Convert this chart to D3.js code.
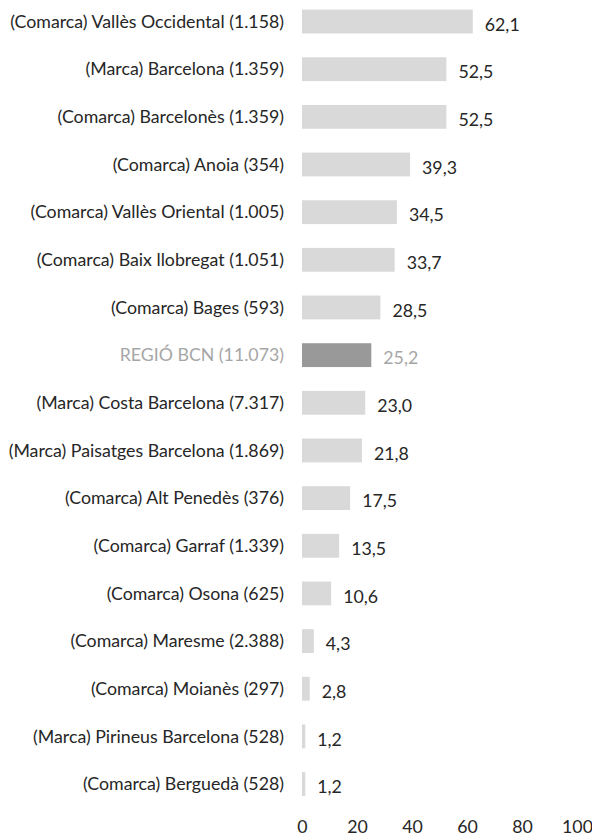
<!DOCTYPE html>
<meta charset="utf-8">
<head>
<style>
body { margin: 0; background: #fff; }
svg text { font-family: Lato, "Open Sans", sans-serif; font-size: 14px; fill: #262626; }
.axis path, .axis line { display: none; }
</style>
<script src="https://d3js.org/d3.v7.min.js"></script>
</head>
<body>
<svg id="plot" width="592" height="840"></svg>
<script>

var categories = [
  "(Comarca) Vallès Occidental (1.158)",
  "(Marca) Barcelona (1.359)",
  "(Comarca) Barcelonès (1.359)",
  "(Comarca) Anoia (354)",
  "(Comarca) Vallès Oriental (1.005)",
  "(Comarca) Baix llobregat (1.051)",
  "(Comarca) Bages (593)",
  "REGIÓ BCN (11.073)",
  "(Marca) Costa Barcelona (7.317)",
  "(Marca) Paisatges Barcelona (1.869)",
  "(Comarca) Alt Penedès (376)",
  "(Comarca) Garraf (1.339)",
  "(Comarca) Osona (625)",
  "(Comarca) Maresme (2.388)",
  "(Comarca) Moianès (297)",
  "(Marca) Pirineus Barcelona (528)",
  "(Comarca) Berguedà (528)"
];

var values = [62.1, 52.5, 52.5, 39.3, 34.5, 33.7, 28.5, 25.2, 23.0, 21.8, 17.5, 13.5, 10.6, 4.3, 2.8, 1.2, 1.2];

var highlight = "REGIÓ BCN (11.073)";

var xTicks = [0, 20, 40, 60, 80, 100];

var data = categories.map(function(c, i) { return {cat: c, val: values[i]}; });

var svg = d3.select("svg");

// fit the font so the longest label is as wide as in the picture
var probe = svg.append("text").text(categories[0]);
var fs = 14 * 274 / probe.node().getComputedTextLength();
probe.remove();
svg.style("font-size", fs + "px");
d3.select("style").node().textContent += "svg text { font-size: " + fs.toFixed(2) + "px; }";

var x = d3.scaleLinear()
    .domain([0, 100])
    .range([302, 577]);

var y = d3.scaleBand()
    .domain(categories)
    .range([-2.3, 807.9])
    .paddingInner(0.5)
    .paddingOuter(0.25);

var fmt = function(v) { return d3.format(".1f")(v).replace(".", ","); };

// bars
svg.selectAll(".bar").data(data).enter().append("rect")
    .attr("class", "bar")
    .attr("x", x(0))
    .attr("y", function(d) { return y(d.cat); })
    .attr("width", function(d) { return x(d.val) - x(0); })
    .attr("height", y.bandwidth())
    .attr("fill", function(d) { return d.cat == highlight ? "#999999" : "#d9d9d9"; });

// category labels
svg.selectAll(".cat").data(data).enter().append("text")
    .attr("class", "cat")
    .attr("x", 284)
    .attr("y", function(d) { return y(d.cat) + y.bandwidth() / 2; })
    .attr("dy", "0.35em")
    .attr("text-anchor", "end")
    .style("fill", function(d) { return d.cat == highlight ? "#a6a6a6" : null; })
    .text(function(d) { return d.cat; });

// value labels
svg.selectAll(".val").data(data).enter().append("text")
    .attr("class", "val")
    .attr("x", function(d) { return x(d.val) + 12; })
    .attr("y", function(d) { return y(d.cat) + y.bandwidth() / 2 + 3; })
    .attr("dy", "0.35em")
    .style("fill", function(d) { return d.cat == highlight ? "#a6a6a6" : null; })
    .text(function(d) { return fmt(d.val); });

// x axis
svg.append("g")
    .attr("class", "axis")
    .attr("transform", "translate(0,820)")
    .call(d3.axisBottom(x).tickValues(xTicks).tickSize(0).tickPadding(0))
    .selectAll("text")
    .attr("dy", "0.75em")
    .style("font-size", null)
    .style("font-family", null);

</script>
</body>
